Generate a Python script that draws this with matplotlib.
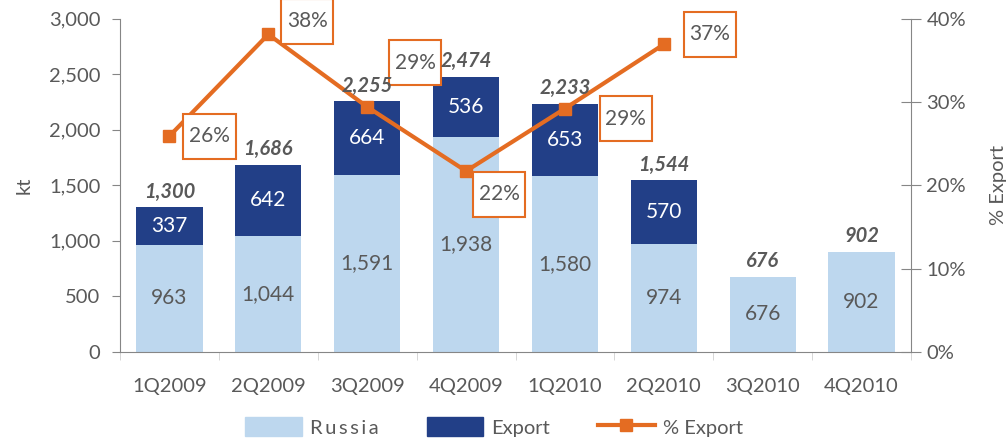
import matplotlib
matplotlib.use("Agg")
import matplotlib.pyplot as plt
from matplotlib.patches import Patch
from matplotlib.lines import Line2D
from matplotlib.path import Path
from matplotlib.ticker import FuncFormatter, MultipleLocator

plt.rcParams['font.family'] = ['Lato', 'DejaVu Sans']

categories = ['1Q2009', '2Q2009', '3Q2009', '4Q2009', '1Q2010', '2Q2010', '3Q2010', '4Q2010']
russia = [963, 1044, 1591, 1938, 1580, 974, 676, 902]
export = [337, 642, 664, 536, 653, 570, 0, 0]
totals = [1300, 1686, 2255, 2474, 2233, 1544, 676, 902]
pct_export = [25.9, 38.1, 29.4, 21.7, 29.2, 36.9]
pct_labels = ['26%', '38%', '29%', '22%', '29%', '37%']

# label offsets in pixels (dx, dy) relative to the point
pct_offsets = [(40, 0), (39, 13), (48, 44), (33, -23), (61, -10), (46, 10)]

C_RUS = '#BDD7EE'
C_EXP = '#223F87'
C_ORG = '#E46C22'
C_TXT = '#595959'
C_AX = '#868686'


def tallbox(x0, y0, width, height, mutation_size):
    padx = 0.27 * mutation_size
    pady = 0.6 * mutation_size
    x0 -= padx
    y0 -= pady
    w = width + 2 * padx
    h = height + 2 * pady
    return Path([(x0, y0), (x0 + w, y0), (x0 + w, y0 + h), (x0, y0 + h), (x0, y0)], closed=True)


fig = plt.figure(figsize=(10.08, 4.4), dpi=100)
ax = fig.add_axes([120/1008, 1-352/440, (911-120)/1008, (352-18.5)/440])
x = list(range(len(categories)))
w = 0.67
ax.bar(x, russia, width=w, color=C_RUS, zorder=2)
ax.bar(x, export, width=w, bottom=russia, color=C_EXP, zorder=2)

for i in x:
    ax.text(i, russia[i]/2, f'{russia[i]:,}', ha='center', va='center', color=C_TXT, fontsize=15, zorder=3)
    if export[i] > 0:
        ax.text(i, russia[i] + export[i]/2, f'{export[i]:,}', ha='center', va='center', color='white', fontsize=15, zorder=3)

ax.set_xlim(-0.5, len(categories) - 0.5)
ax.set_ylim(0, 3000)
ax.yaxis.set_major_locator(MultipleLocator(500))
ax.yaxis.set_major_formatter(FuncFormatter(lambda v, p: f'{int(v):,}'))
ax.set_xticks(x)
ax.set_xticklabels(categories)
ax.set_xticks([i - 0.5 for i in range(len(categories) + 1)], minor=True)
ax.tick_params(axis='x', which='major', length=0, pad=19, labelsize=14.5, labelcolor=C_TXT)
ax.tick_params(axis='x', which='minor', length=6, color='#D0D0D0', direction='out')
ax.tick_params(axis='y', length=6, color=C_AX, labelsize=14.5, labelcolor=C_TXT, pad=8)
for s in ['top', 'right']:
    ax.spines[s].set_visible(False)
ax.spines['left'].set_color(C_AX)
ax.spines['bottom'].set_color(C_AX)
ax.set_ylabel('kt', fontsize=14.5, color=C_TXT, labelpad=12)

ax2 = ax.twinx()
ax2.set_ylim(0, 40)
ax2.yaxis.set_major_locator(MultipleLocator(10))
ax2.yaxis.set_major_formatter(FuncFormatter(lambda v, p: f'{int(v)}%'))
ax2.plot(x[:len(pct_export)], pct_export, color=C_ORG, lw=3, marker='s', ms=9, zorder=4)
for s in ['top', 'left', 'bottom']:
    ax2.spines[s].set_visible(False)
ax2.spines['right'].set_color(C_AX)
ax2.tick_params(axis='y', direction='inout', length=14, color=C_AX, labelsize=14.5, labelcolor=C_TXT, pad=4)
ax2.set_ylabel('% Export', fontsize=14.5, color=C_TXT, rotation=90, labelpad=17)
for i, (v, lab) in enumerate(zip(pct_export, pct_labels)):
    dx, dy = pct_offsets[i]
    ax2.annotate(lab, (i, v), xytext=(dx*0.72, dy*0.72), textcoords='offset points',
                 ha='center', va='center', color=C_TXT, fontsize=15, annotation_clip=False,
                 bbox=dict(boxstyle=tallbox, fc='white', ec=C_ORG, lw=1.5), zorder=5)

# totals drawn on top of everything, positioned in the kt axis coordinates
for i in x:
    ax2.annotate(f'{totals[i]:,}', (i, totals[i]), xycoords=ax.transData, xytext=(0, 4),
                 textcoords='offset points', ha='center', va='bottom', color=C_TXT,
                 fontsize=14.5, fontweight='bold', fontstyle='italic', zorder=6)

handles = [Patch(color=C_RUS), Patch(color=C_EXP),
           Line2D([0], [0], color=C_ORG, lw=3, marker='s', ms=9)]
fig.legend(handles, ['R\u2009u\u2009s\u2009s\u2009i\u2009a', 'Export', '% Export'], loc='center',
           bbox_to_anchor=(0.49, 0.03),
           ncol=3, frameon=False, fontsize=14.5, labelcolor=C_TXT, handlelength=2.8, handleheight=1.1,
           columnspacing=2.4, handletextpad=0.4)

fig.savefig('out.png', dpi=100)
